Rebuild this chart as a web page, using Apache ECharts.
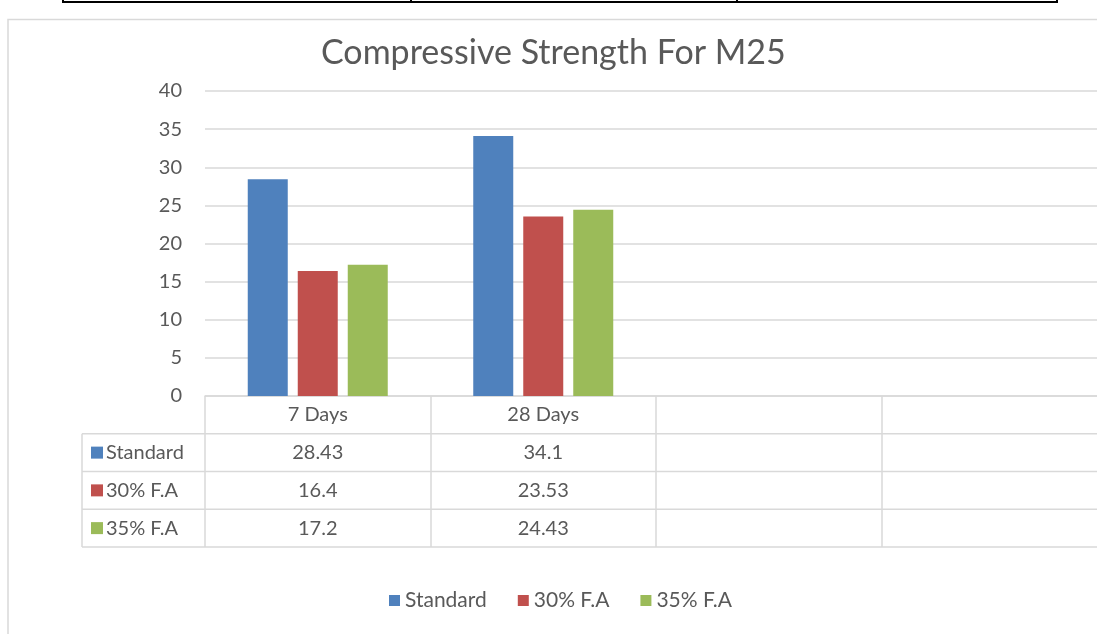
<!DOCTYPE html>
<html>
<head>
<meta charset="utf-8">
<script src="https://cdn.jsdelivr.net/npm/echarts@6/dist/echarts.min.js"></script>
<style>
html,body{margin:0;padding:0;background:#fff;}
#main{width:1097px;height:634px;}
</style>
</head>
<body>
<div id="main"></div>
<script>
// ---- data ----
const titleText = 'Compressive Strength For M25';
const categories = ['7 Days', '28 Days', '', ''];
const seriesNames = ['Standard', '30% F.A', '35% F.A'];
const standard = [28.43, 34.1, null, null];
const fa30 = [16.4, 23.53, null, null];
const fa35 = [17.2, 24.43, null, null];
const yMin = 0, yMax = 40, yInterval = 5;

// ---- styles ----
const colors = ['#4F81BD', '#C0504D', '#9BBB59'];
const FONT = 'Lato';
const FS = 20;
const TXT = '#595959';
const LINE = '#d9d9d9';
const rowH = 37.75;

const seriesData = [standard, fa30, fa35];

const chart = echarts.init(document.getElementById('main'), null, {renderer: 'canvas'});

const option = {
  backgroundColor: '#ffffff',
  animation: false,
  color: colors,
  title: {
    text: titleText,
    left: 321,
    top: 36,
    padding: 0,
    textStyle: {fontFamily: FONT, fontSize: 34, fontWeight: 'normal', color: TXT}
  },
  legend: {
    data: seriesNames,
    left: 389,
    top: 590,
    padding: 0,
    icon: 'rect',
    itemWidth: 11,
    itemHeight: 11,
    itemGap: 31,
    textStyle: {fontFamily: FONT, fontSize: 21, color: TXT}
  },
  grid: {left: 205, top: 91, width: 902, bottom: 238, outerBoundsMode: 'none', containLabel: false},
  xAxis: {
    type: 'category',
    data: categories,
    axisLine: {show: true, lineStyle: {color: LINE, width: 1.5}},
    axisTick: {show: true, length: rowH * 4, lineStyle: {color: LINE, width: 1.5}},
    axisLabel: {fontFamily: FONT, fontSize: FS, color: TXT, margin: 9, interval: 0}
  },
  yAxis: {
    type: 'value',
    min: yMin, max: yMax, interval: yInterval,
    axisLine: {show: false},
    axisTick: {show: false},
    splitLine: {lineStyle: {color: LINE, width: 1.5}},
    axisLabel: {fontFamily: FONT, fontSize: FS, color: TXT, margin: 23}
  },
  series: seriesNames.map((n, i) => ({
    name: n,
    type: 'bar',
    data: seriesData[i],
    barWidth: 40,
    barGap: '25%',
    itemStyle: {color: colors[i]}
  }))
};
chart.setOption(option);

// ---- data table and frame built from the axes ----
const y0 = chart.convertToPixel({yAxisIndex: 0}, yMin);
const tableLeft = 82;
const g = [];
// chart frame
g.push({type: 'rect', shape: {x: 8, y: 19.5, width: 1200, height: 700},
  style: {fill: null, stroke: LINE, lineWidth: 1.5}, z: -1});
// document table fragment at top
g.push({type: 'line', shape: {x1: 63, y1: 2, x2: 1057, y2: 2}, style: {stroke: '#000', lineWidth: 2}});
[63, 411, 737, 1057].forEach(x => g.push({type: 'line', shape: {x1: x, y1: 0, x2: x, y2: 3}, style: {stroke: '#000', lineWidth: 2}}));
// horizontal table lines
for (let k = 1; k <= 4; k++) {
  const y = y0 + k * rowH;
  g.push({type: 'line', shape: {x1: tableLeft, y1: y, x2: 1097, y2: y}, style: {stroke: LINE, lineWidth: 1.5}});
}
g.push({type: 'line', shape: {x1: tableLeft, y1: y0 + rowH, x2: tableLeft, y2: y0 + 4 * rowH}, style: {stroke: LINE, lineWidth: 1.5}});
// row headers
seriesNames.forEach((n, i) => {
  const cy = y0 + rowH * (i + 1.5);
  g.push({type: 'rect', shape: {x: 91, y: cy - 6, width: 12, height: 12}, style: {fill: colors[i]}});
  g.push({type: 'text', x: 106, y: cy, style: {text: n, fontFamily: FONT, fontSize: FS, fill: TXT, textVerticalAlign: 'middle', textAlign: 'left'}});
});
// cells
seriesData.forEach((arr, i) => {
  const cy = y0 + rowH * (i + 1.5);
  arr.forEach((v, j) => {
    if (v === null || v === undefined) return;
    const cx = chart.convertToPixel({xAxisIndex: 0}, j);
    g.push({type: 'text', x: cx, y: cy, style: {text: String(v), fontFamily: FONT, fontSize: FS, fill: TXT, textAlign: 'center', textVerticalAlign: 'middle'}});
  });
});
chart.setOption({graphic: {elements: g}});
</script>
</body>
</html>
